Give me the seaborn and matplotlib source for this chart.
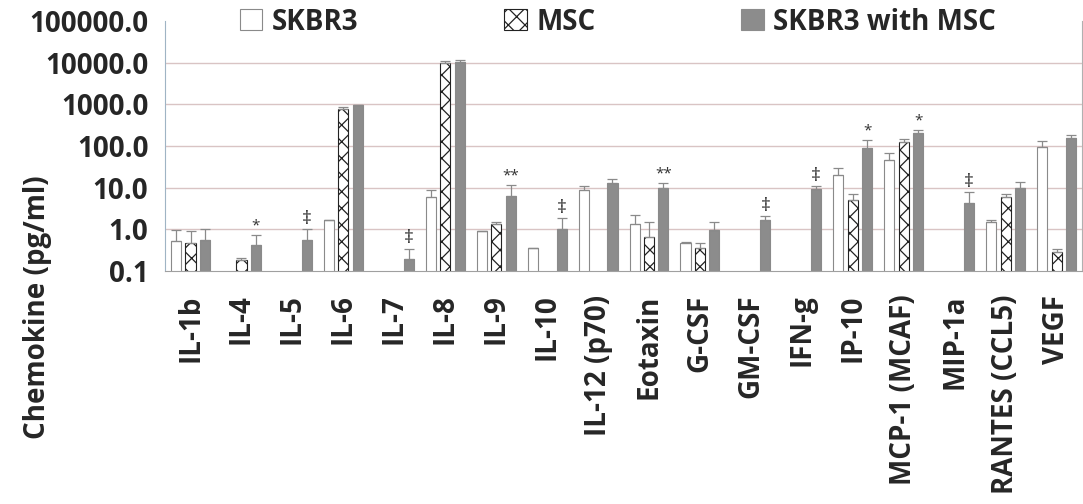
import numpy as np
import pandas as pd
import seaborn as sns
import matplotlib.pyplot as plt
from matplotlib.patches import Patch

sns.set_style('white')
plt.rcParams['font.family'] = ['Open Sans', 'DejaVu Sans']
plt.rcParams['font.weight'] = 'bold'
plt.rcParams['hatch.linewidth'] = 0.9

cytokines = ['IL-1b', 'IL-4', 'IL-5', 'IL-6', 'IL-7', 'IL-8', 'IL-9', 'IL-10',
             'IL-12 (p70)', 'Eotaxin', 'G-CSF', 'GM-CSF', 'IFN-g', 'IP-10',
             'MCP-1 (MCAF)', 'MIP-1a', 'RANTES (CCL5)', 'VEGF']
groups = ['SKBR3', 'MSC', 'SKBR3 with MSC']

nan = np.nan
# mean values (pg/ml)
skbr3 = [0.52, nan, nan, 1.67, nan, 5.9, 0.91, 0.35, 9.0, 1.32, 0.47, nan,
         nan, 19.6, 45, nan, 1.53, 94]
msc = [0.48, 0.18, nan, 760, nan, 9600, 1.32, nan, nan, 0.67, 0.36, nan,
       nan, 5.2, 124, nan, 5.9, 0.28]
co = [0.55, 0.42, 0.55, 960, 0.19, 10500, 6.3, 1.0, 13.2, 10.0, 0.95, 1.7,
      9.5, 89, 200, 4.2, 10.0, 152]
# top of the error bars
skbr3_err = [0.95, nan, nan, 1.7, nan, 8.9, 0.93, 0.36, 10.7, 2.25, 0.49, nan,
             nan, 30, 68, nan, 1.67, 135]
msc_err = [0.9, 0.2, nan, 850, nan, 11000, 1.5, nan, nan, 1.53, 0.48, nan,
           nan, 7.2, 150, nan, 7.0, 0.34]
co_err = [1.0, 0.72, 1.0, 990, 0.34, 11500, 11.8, 1.84, 16.5, 13.0, 1.53, 2.1,
          10.8, 141, 245, 7.7, 13.9, 183]
# significance marks on the co-culture bars
marks = {'IL-4': '*', 'IL-5': '‡', 'IL-7': '‡', 'IL-9': '**', 'IL-10': '‡',
         'Eotaxin': '**', 'GM-CSF': '‡', 'IFN-g': '‡', 'IP-10': '*',
         'MCP-1 (MCAF)': '*', 'MIP-1a': '‡'}

rows = []
for g, vals, errs in [(groups[0], skbr3, skbr3_err), (groups[1], msc, msc_err),
                      (groups[2], co, co_err)]:
    for c, v, e in zip(cytokines, vals, errs):
        if not np.isnan(v):
            rows.append({'cytokine': c, 'group': g, 'value': v, 'top': e})
df = pd.DataFrame(rows)

fig = plt.figure(figsize=(10.83, 5.04), dpi=100)
ax = fig.add_axes([0.1524, 0.4623, 0.8467, 0.496])

sns.barplot(data=df, x='cytokine', y='value', hue='group', order=cytokines,
            hue_order=groups, palette=['white', 'white', '#8c8c8c'],
            width=0.85, gap=0.3, errorbar=None, legend=False, ax=ax,
            edgecolor='#8a8a8a', linewidth=0.8)
ax.set_yscale('log')

# hatch the MSC bars, error bars from each container
for g, cont in zip(groups, ax.containers):
    sub = df[df.group == g].set_index('cytokine').reindex(
        [c for c in cytokines if c in set(df[df.group == g].cytokine)])
    for bar, (name, r) in zip(cont, sub.iterrows()):
        if g == 'MSC':
            bar.set_hatch('xx')
            bar.set_edgecolor('#222222')
        xc = bar.get_x() + bar.get_width() / 2
        ax.errorbar(xc, r['value'], yerr=[[0], [r['top'] - r['value']]],
                    fmt='none', ecolor='#8a8a8a', elinewidth=0.9, capsize=3.5,
                    capthick=0.9, zorder=3)
        if g == 'SKBR3 with MSC' and name in marks:
            m = marks[name]
            ax.text(xc, r['top'] * 1.08, m, ha='center', va='bottom',
                    fontsize=14 if m == '‡' else 11, fontweight='normal',
                    color='#333333')

ax.set_ylim(0.1, 100000)
ax.set_xlim(-0.5, 17.5)
yt = [0.1, 1, 10, 100, 1000, 10000, 100000]
ax.set_yticks(yt)
ax.set_yticklabels(['%.1f' % v for v in yt], fontsize=20, fontweight='bold')
ax.minorticks_off()
ax.tick_params(axis='y', length=6, color='#9fb4c4', width=1, pad=6)

ax.set_xticks(np.arange(18) + 0.5)
ax.set_xticklabels([])
ax.tick_params(axis='x', which='major', length=11, color='#9fb4c4', width=1)
ax.set_xticks(np.arange(18), minor=True)
ax.set_xticklabels(cytokines, minor=True, rotation=90, fontsize=20,
                   fontweight='bold', va='top')
ax.tick_params(axis='x', which='minor', length=0, pad=17)

ax.grid(axis='y', color='#d9c4c4', linewidth=1)
ax.yaxis.get_gridlines()[0].set_visible(False)
ax.yaxis.get_gridlines()[-1].set_visible(False)
ax.set_axisbelow(True)

ax.spines['top'].set_visible(False)
ax.spines['left'].set_color('#9fb4c4')
ax.spines['bottom'].set_color('#a0a0a0')
ax.spines['right'].set_color('#b0b0b0')

ax.set_xlabel('')
ax.set_ylabel('Chemokine (pg/ml)', fontsize=20, fontweight='bold')
ax.yaxis.set_label_coords(-0.123, -0.144)

handles = [Patch(facecolor='white', edgecolor='#8a8a8a', linewidth=0.8),
           Patch(facecolor='white', edgecolor='#222222', hatch='xx', linewidth=0.8),
           Patch(facecolor='#8c8c8c', edgecolor='#8c8c8c', linewidth=0.8)]
fig.legend(handles, groups, loc='center left',
           bbox_to_anchor=(240 / 1083, 1 - 22 / 504), ncol=3, frameon=False,
           prop={'size': 20, 'weight': 'bold'}, handlelength=0.8,
           handleheight=0.8, handletextpad=0.35, columnspacing=5.25,
           borderpad=0, borderaxespad=0)

fig.savefig('out.png', dpi=100)
